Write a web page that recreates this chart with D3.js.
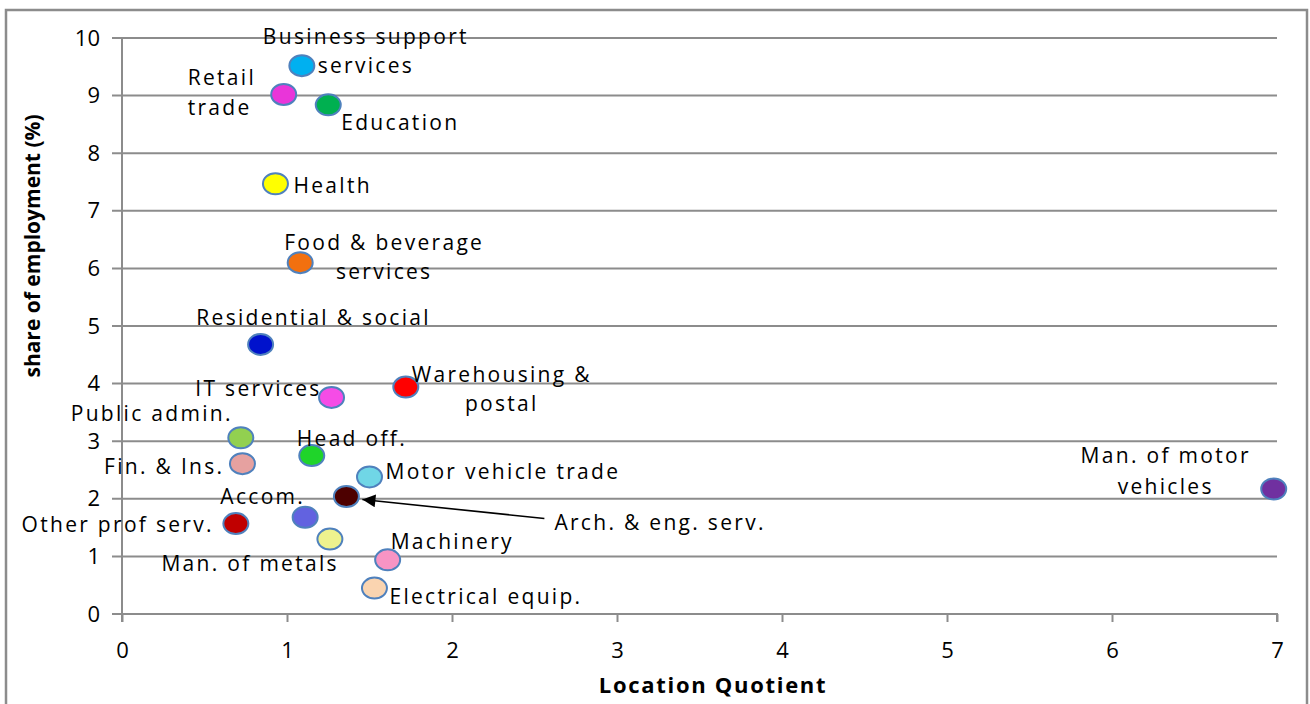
<!DOCTYPE html>
<html>
<head>
<meta charset="utf-8">
<script src="https://cdn.jsdelivr.net/npm/d3@7"></script>
<style>
  html, body { margin: 0; padding: 0; background: #fff; }
  svg { display: block; }
</style>
</head>
<body>
<div id="chart"></div>
<script>
// sectors, in drawing order
const sectors = [
  "Business support services", "Retail trade", "Education", "Health",
  "Food & beverage services", "Residential & social", "IT services",
  "Warehousing & postal", "Public admin.", "Head off.", "Fin. & Ins.",
  "Motor vehicle trade", "Arch. & eng. serv.", "Accom.", "Other prof serv.",
  "Man. of metals", "Machinery", "Electrical equip.", "Man. of motor vehicles"
];
// location quotient (x)
const locationQuotient = [1.09, 0.98, 1.25, 0.93, 1.08, 0.84, 1.27, 1.72, 0.72, 1.15, 0.73, 1.50, 1.36, 1.11, 0.69, 1.26, 1.61, 1.53, 6.98];
// share of employment, % (y)
const shareEmployment = [9.52, 9.02, 8.84, 7.47, 6.10, 4.68, 3.76, 3.94, 3.06, 2.75, 2.61, 2.38, 2.04, 1.68, 1.57, 1.30, 0.94, 0.45, 2.17];
// label text, one entry per line
const labelLines = [
  ["Business support", "services"], ["Retail", "trade"], ["Education"], ["Health"],
  ["Food & beverage", "services"], ["Residential & social"], ["IT services"],
  ["Warehousing &", "postal"], ["Public admin."], ["Head off."], ["Fin. & Ins."],
  ["Motor vehicle trade"], ["Arch. & eng. serv."], ["Accom."], ["Other prof serv."],
  ["Man. of metals"], ["Machinery"], ["Electrical equip."], ["Man. of motor", "vehicles"]
];
const xTicks = [0, 1, 2, 3, 4, 5, 6, 7];
const yTicks = [0, 1, 2, 3, 4, 5, 6, 7, 8, 9, 10];

// marker fills
const colors = [
  "#00b0f0", "#e935d9", "#00b050", "#ffff00", "#f2700f", "#0012cc", "#f54ce6",
  "#ff0000", "#92d050", "#1fd42a", "#e6a1a0", "#70d6e6", "#4d0000", "#6262e0",
  "#c00000", "#eef28e", "#f794c4", "#fad4b0", "#7030a0"
];
// label placement relative to the marker: [dx, dy of first line, line step, anchor]
const labelLayout = [
  [64, -29, 29, "middle"], [-96, -17, 30, "start"], [13, 18, 0, "start"], [18, 2, 0, "start"],
  [84, -20, 29, "middle"], [53, -27, 0, "middle"], [-10, -9, 0, "end"],
  [96, -12, 29, "middle"], [-8, -24, 0, "end"], [-15, -17, 0, "start"], [-18, 3, 0, "end"],
  [16, -5, 0, "start"], [208, 26, 0, "start"], [0, -21, 0, "end"], [-22, 1, 0, "end"],
  [9, 25, 0, "end"], [3, -18, 0, "start"], [15, 9, 0, "start"], [-108, -33, 31, "middle"]
];

const W = 1310, H = 704;
const svg = d3.select("#chart").append("svg")
  .attr("width", W).attr("height", H)
  .style("font-family", "'Open Sans', sans-serif");

// outer frame
svg.append("rect")
  .attr("x", 6).attr("y", 10).attr("width", 1301).attr("height", 710)
  .attr("fill", "none").attr("stroke", "#8c8c8c").attr("stroke-width", 2.5);

const x = d3.scaleLinear().domain([0, 7]).range([122, 1277]);
const y = d3.scaleLinear().domain([0, 10]).range([614, 38]);

// horizontal gridlines (they also act as the y ticks)
svg.append("g").selectAll("line").data(yTicks.filter(d => d > 0)).join("line")
  .attr("x1", x(0) - 10).attr("x2", x(7))
  .attr("y1", d => y(d)).attr("y2", d => y(d))
  .attr("stroke", "#8c8c8c").attr("stroke-width", 2);

// x axis
const xAxis = svg.append("g")
  .attr("transform", `translate(0,${y(0)})`)
  .call(d3.axisBottom(x).tickValues(xTicks).tickSize(8).tickPadding(20).tickFormat(d3.format("d")));
xAxis.select(".domain").attr("stroke", "#8c8c8c").attr("stroke-width", 2)
  .attr("d", `M${x(0) - 10},0H${x(7)}V8`);
xAxis.selectAll(".tick line").attr("stroke", "#8c8c8c").attr("stroke-width", 2);
xAxis.selectAll("text").attr("font-size", 22).attr("fill", "#000")
  .style("font-family", "'Open Sans', sans-serif");

// y axis
const yAxis = svg.append("g")
  .attr("transform", `translate(${x(0)},0)`)
  .call(d3.axisLeft(y).tickValues(yTicks).tickSize(0).tickPadding(22).tickFormat(d3.format("d")));
yAxis.select(".domain").attr("stroke", "#8c8c8c").attr("stroke-width", 2)
  .attr("d", `M0,${y(10)}V${y(0) + 8}`);
yAxis.selectAll("text").attr("font-size", 22).attr("fill", "#000")
  .style("font-family", "'Open Sans', sans-serif");

// axis titles
svg.append("text")
  .attr("x", 713).attr("y", 685).attr("dy", "0.35em")
  .attr("text-anchor", "middle").attr("font-size", 22).attr("font-weight", "bold")
  .attr("letter-spacing", 1.7)
  .attr("fill", "#000")
  .text("Location Quotient");
svg.append("text")
  .attr("transform", "translate(33,246) rotate(-90)")
  .attr("dy", "0.35em")
  .attr("text-anchor", "middle").attr("font-size", 21).attr("font-weight", "bold")
  .attr("fill", "#000")
  .text("share of employment (%)");

const pts = sectors.map((s, i) => ({
  name: s, lq: locationQuotient[i], share: shareEmployment[i],
  color: colors[i], lines: labelLines[i], layout: labelLayout[i]
}));

// arrow for Arch. & eng. serv.
svg.append("defs").append("marker")
  .attr("id", "arrow").attr("viewBox", "0 0 10 10")
  .attr("refX", 10).attr("refY", 5)
  .attr("markerWidth", 20).attr("markerHeight", 13)
  .attr("markerUnits", "userSpaceOnUse").attr("orient", "auto")
  .append("path").attr("d", "M0,0L10,5L0,10Z").attr("fill", "#000");

const arch = pts[12];
svg.append("line")
  .attr("x1", x(arch.lq) + 198).attr("y1", y(arch.share) + 22)
  .attr("x2", x(arch.lq) + 16).attr("y2", y(arch.share) + 3)
  .attr("stroke", "#000").attr("stroke-width", 1.6)
  .attr("marker-end", "url(#arrow)");

// markers
svg.append("g").selectAll("ellipse").data(pts).join("ellipse")
  .attr("cx", d => x(d.lq)).attr("cy", d => y(d.share))
  .attr("rx", 12.5).attr("ry", 10.5)
  .attr("fill", d => d.color)
  .attr("stroke", "#4f81bd").attr("stroke-width", 2);

// labels
const lab = svg.append("g").selectAll("text").data(pts).join("text")
  .attr("font-size", 21).attr("letter-spacing", 2.3).attr("fill", "#000")
  .attr("text-anchor", d => d.layout[3]);
lab.selectAll("tspan").data(d => d.lines.map((t, k) => ({ t, k, d }))).join("tspan")
  .attr("x", o => x(o.d.lq) + o.d.layout[0])
  .attr("y", o => y(o.d.share) + o.d.layout[1] + o.k * o.d.layout[2])
  .attr("dy", "0.35em")
  .text(o => o.t);
</script>
</body>
</html>
